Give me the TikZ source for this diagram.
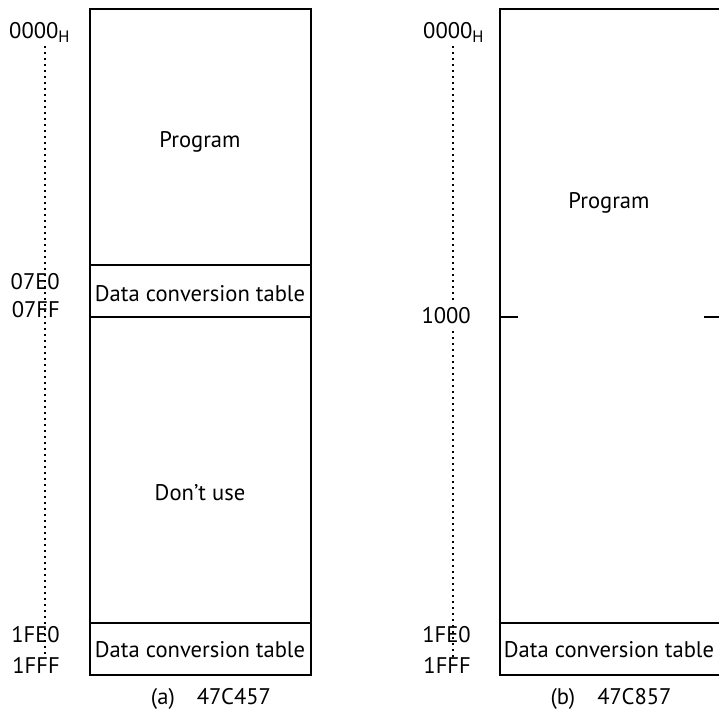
\documentclass[tikz,border=0pt]{standalone}
\usepackage{fontspec}
\setmainfont{PT Sans}
\begin{document}
\begin{tikzpicture}[x=1pt,y=-1pt,
  region/.style={draw, line width=1.8pt, anchor=north west, inner sep=0pt, outer sep=0pt, minimum width=221pt},
  txt/.style={font=\fontsize{22.6}{27}\selectfont, inner sep=0pt, anchor=base},
  addr/.style={font=\fontsize{22.6}{27}\selectfont, inner sep=0pt, anchor=base east},
  dots/.style={line width=1.8pt, dash pattern=on 1.8pt off 4.2pt},
  tick/.style={line width=1.8pt}]
\useasboundingbox (0,0) rectangle (719,715);
\clip (0,0) rectangle (719,715);
% ---------- (a) 47C457 ----------
\node[region, minimum height=256pt] (aprog) at (90,9) {};
\node[region, minimum height=52pt] (atab1) at (90,265) {};
\node[region, minimum height=306pt] (adont) at (90,317) {};
\node[region, minimum height=52pt] (atab2) at (90,623) {};
\node[txt] (aprogt) at (200,147) {Program};
\node[txt] (atab1t) at (200,301) {Data conversion table};
\node[txt] (adontt) at (200,500) {Don’t use};
\node[txt] (atab2t) at (200,657) {Data conversion table};
\node[txt] (acap) at (211,704) {(a)\hspace{22pt}47C457};
\node[addr, anchor=base west] (a0000) at (9,38) {0000\raisebox{-4pt}{\fontsize{16.5}{17}\selectfont H}};
\node[addr] (a07e0) at (60,289) {07E0};
\node[addr] (a07ff) at (60,317) {07FF};
\node[addr] (a1fe0) at (60,642) {1FE0};
\node[addr] (a1fff) at (60,673) {1FFF};
\coordinate (atop) at (45,46);
\coordinate (abot) at (45,657);
\draw[dots] (atop) -- (abot);
% ---------- (b) 47C857 ----------
\node[region, minimum height=614pt] (bprog) at (500,9) {};
\node[region, minimum height=52pt] (btab) at (500,623) {};
\node[txt] (bprogt) at (609,208) {Program};
\node[txt] (btabt) at (609,657) {Data conversion table};
\node[txt] (bcap) at (611,704) {(b)\hspace{22pt}47C857};
\node[addr, anchor=base west] (b0000) at (423,38) {0000\raisebox{-4pt}{\fontsize{16.5}{17}\selectfont H}};
\node[addr] (b1000) at (471,323) {1000};
\node[addr] (b1fe0) at (471,642) {1FE0};
\node[addr] (b1fff) at (471,673) {1FFF};
\coordinate (btop) at (453,46);
\coordinate (bmid1) at (453,303);
\coordinate (bmid2) at (453,331);
\coordinate (bbot) at (453,657);
\draw[dots] (btop) -- (bmid1);
\draw[dots] (bmid2) -- (bbot);
\coordinate (tl1) at (500,317);
\coordinate (tl2) at (518,317);
\coordinate (tr1) at (704,317);
\coordinate (tr2) at (722,317);
\draw[tick] (tl1) -- (tl2);
\draw[tick] (tr1) -- (tr2);
\end{tikzpicture}
\end{document}
